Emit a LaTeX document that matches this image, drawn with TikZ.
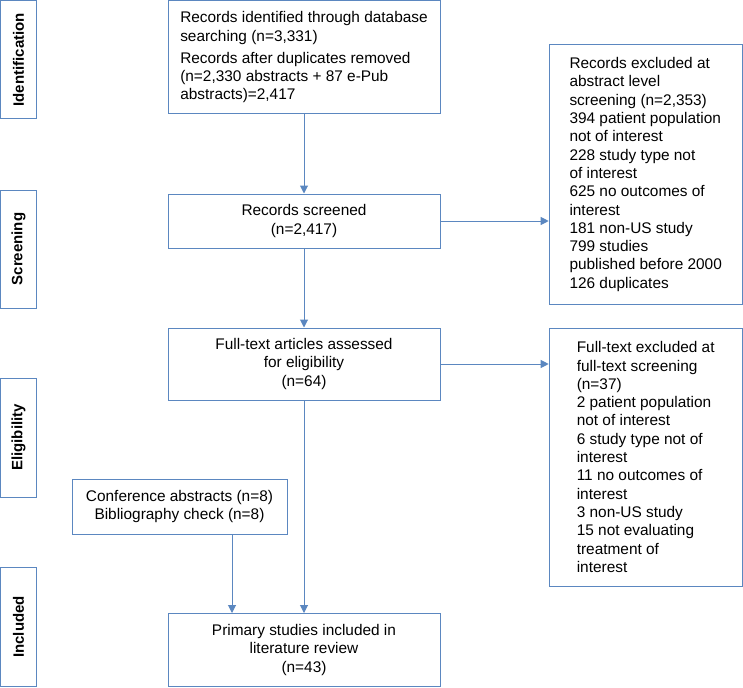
\documentclass[tikz,border=0pt]{standalone}
\usepackage{fontspec}
\setmainfont{Liberation Sans}
\usetikzlibrary{arrows.meta,positioning}
\definecolor{flowblue}{HTML}{5B87C0}
\tikzset{
  box/.style={draw=flowblue, line width=1pt, inner sep=0pt, align=center,
    font=\fontsize{15.4}{18.3}\selectfont},
  listbox/.style={box, align=left},
  stage/.style={box, rotate=90, minimum height=36pt,
    font=\bfseries\fontsize{15}{17}\selectfont},
  arr/.style={draw=flowblue, line width=1pt, -{Triangle[width=8pt,length=8pt]}},
}
\begin{document}
\begin{tikzpicture}[x=1pt,y=-1pt]
  \useasboundingbox (0,0) rectangle (743,687);
  % stage labels
  \node[stage, minimum width=118pt] (ident) at (18.5,59.8) {Identification};
  \node[stage, minimum width=118pt] (scr) at (18.5,249) {Screening};
  \node[stage, minimum width=119pt] (elig) at (18.5,437.5) {Eligibility};
  \node[stage, minimum width=119pt] (incl) at (18.5,627) {Included};
  % main column
  \node[listbox, minimum width=272pt, minimum height=113pt] (records) at (304,57.3)
    {Records identified through database\\searching (n=3,331)\\[3.5pt]
     Records after duplicates removed\\(n=2,330 abstracts + 87 e-Pub\\abstracts)=2,417};
  \node[box, minimum width=272pt, minimum height=54pt] (screened) at (304,221)
    {Records screened\\(n=2,417)};
  \node[box, minimum width=272pt, minimum height=72pt] (fulltext) at (304,364)
    {Full-text articles assessed\\for eligibility\\(n=64)};
  \node[box, minimum width=272pt, minimum height=73pt] (primary) at (304,650)
    {Primary studies included in\\literature review\\(n=43)};
  \node[box, minimum width=215pt, minimum height=55pt] (conf) at (179.5,506.5)
    {Conference abstracts (n=8)\\Bibliography check (n=8)};
  % exclusions
  \node[listbox, minimum width=193pt, minimum height=259pt] (absexcl) at (645.7,174.5)
    {Records excluded at\\abstract level\\screening (n=2,353)\\394 patient population\\not of interest\\
     228 study type not\\of interest\\625 no outcomes of\\interest\\181 non-US study\\
     799 studies\\published before 2000\\126 duplicates};
  \node[listbox, minimum width=193pt, minimum height=258pt] (ftexcl) at (645.7,457)
    {Full-text excluded at\\full-text screening\\(n=37)\\2 patient population\\not of interest\\
     6 study type not of\\interest\\11 no outcomes of\\interest\\3 non-US study\\
     15 not evaluating\\treatment of\\interest};
  % arrows
  \draw[arr] (records.south) -- (screened.north);
  \draw[arr] (screened.south) -- (fulltext.north);
  \draw[arr] (fulltext.south) -- (primary.north);
  \draw[arr] ([xshift=52.5pt]conf.south) -- ([xshift=52.5pt]conf.south |- primary.north);
  \draw[arr] (screened.east) -- (screened.east -| absexcl.west);
  \draw[arr] (fulltext.east) -- (fulltext.east -| ftexcl.west);
\end{tikzpicture}
\end{document}
